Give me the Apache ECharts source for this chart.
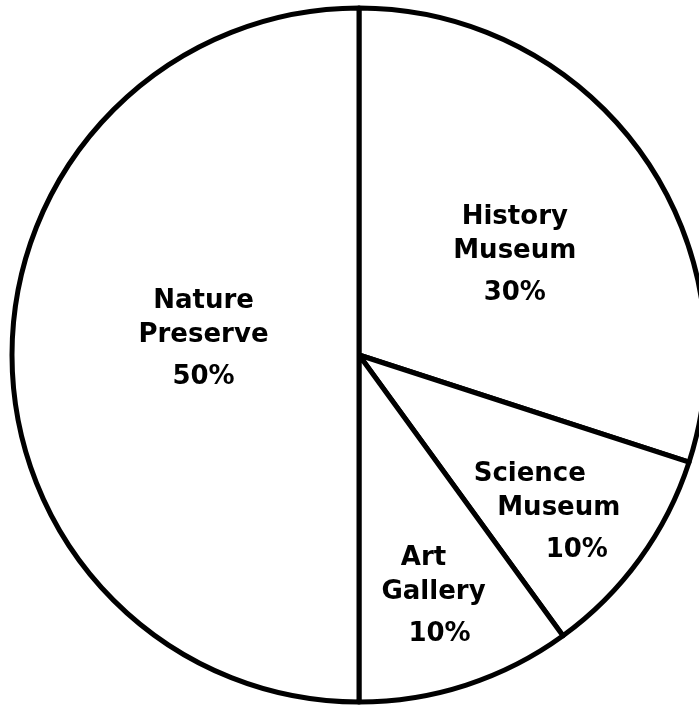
<!DOCTYPE html>
<html>
<head>
<meta charset="UTF-8">
<title>Places visited</title>
<script type="text/javascript" src="https://cdn.jsdelivr.net/npm/echarts@6/dist/echarts.min.js"></script>
<style>
  html, body { margin: 0; padding: 0; background: #fff; }
</style>
</head>
<body>
<div id="main" style="width: 699px;height:705px;"></div>
<script type="text/javascript">
  // data (percent)
  var categories = ['History Museum', 'Science Museum', 'Art Gallery', 'Nature Preserve'];
  var percents = [30, 10, 10, 50];

  // nudge each label from the default "inside" spot to where it sits in the picture
  var labelShift = [[13, 0], [57, 50], [20, 69], [21, -20]];
  // small sideways shift of each text line (word, word, percent)
  var lineShift = [[0, 0, 0], [-29, 0, 18], [-10, 0, 6], [0, 0, 0]];

  var myChart = echarts.init(document.getElementById('main'));

  var baseFont = { fontFamily: 'DejaVu Sans', fontWeight: 'bold', fontSize: 26, color: '#000' };

  var pieData = [];
  for (var i = 0; i < categories.length; i++) {
    var rich = {};
    for (var k = 0; k < 3; k++) {
      var s = lineShift[i][k];
      rich['l' + k] = Object.assign({}, baseFont, {
        lineHeight: 34,
        padding: [k < 2 ? 0 : 16, s < 0 ? -2 * s : 0, 0, s > 0 ? 2 * s : 0]
      });
    }
    pieData.push({ name: categories[i], value: percents[i], label: { rich: rich } });
  }

  var option = {
    animation: false,
    series: [{
      type: 'pie',
      center: [359, 355],
      radius: 347,
      startAngle: 90,
      clockwise: true,
      silent: true,
      avoidLabelOverlap: false,
      data: pieData,
      itemStyle: {
        color: '#ffffff',
        borderColor: '#000000',
        borderWidth: 5
      },
      label: {
        show: true,
        position: 'inside',
        color: '#000',
        fontFamily: 'DejaVu Sans',
        fontWeight: 'bold',
        fontSize: 26,
        align: 'center',
        formatter: function (p) {
          var words = p.name.split(' ');
          return '{l0|' + words[0] + '}\n{l1|' + words[1] + '}\n{l2|' + p.value + '%}';
        }
      },
      labelLine: { show: false },
      labelLayout: function (params) {
        var s = labelShift[params.dataIndex];
        return { dx: s[0], dy: s[1] };
      },
      emphasis: { disabled: true }
    }]
  };

  myChart.setOption(option);
</script>
</body>
</html>
